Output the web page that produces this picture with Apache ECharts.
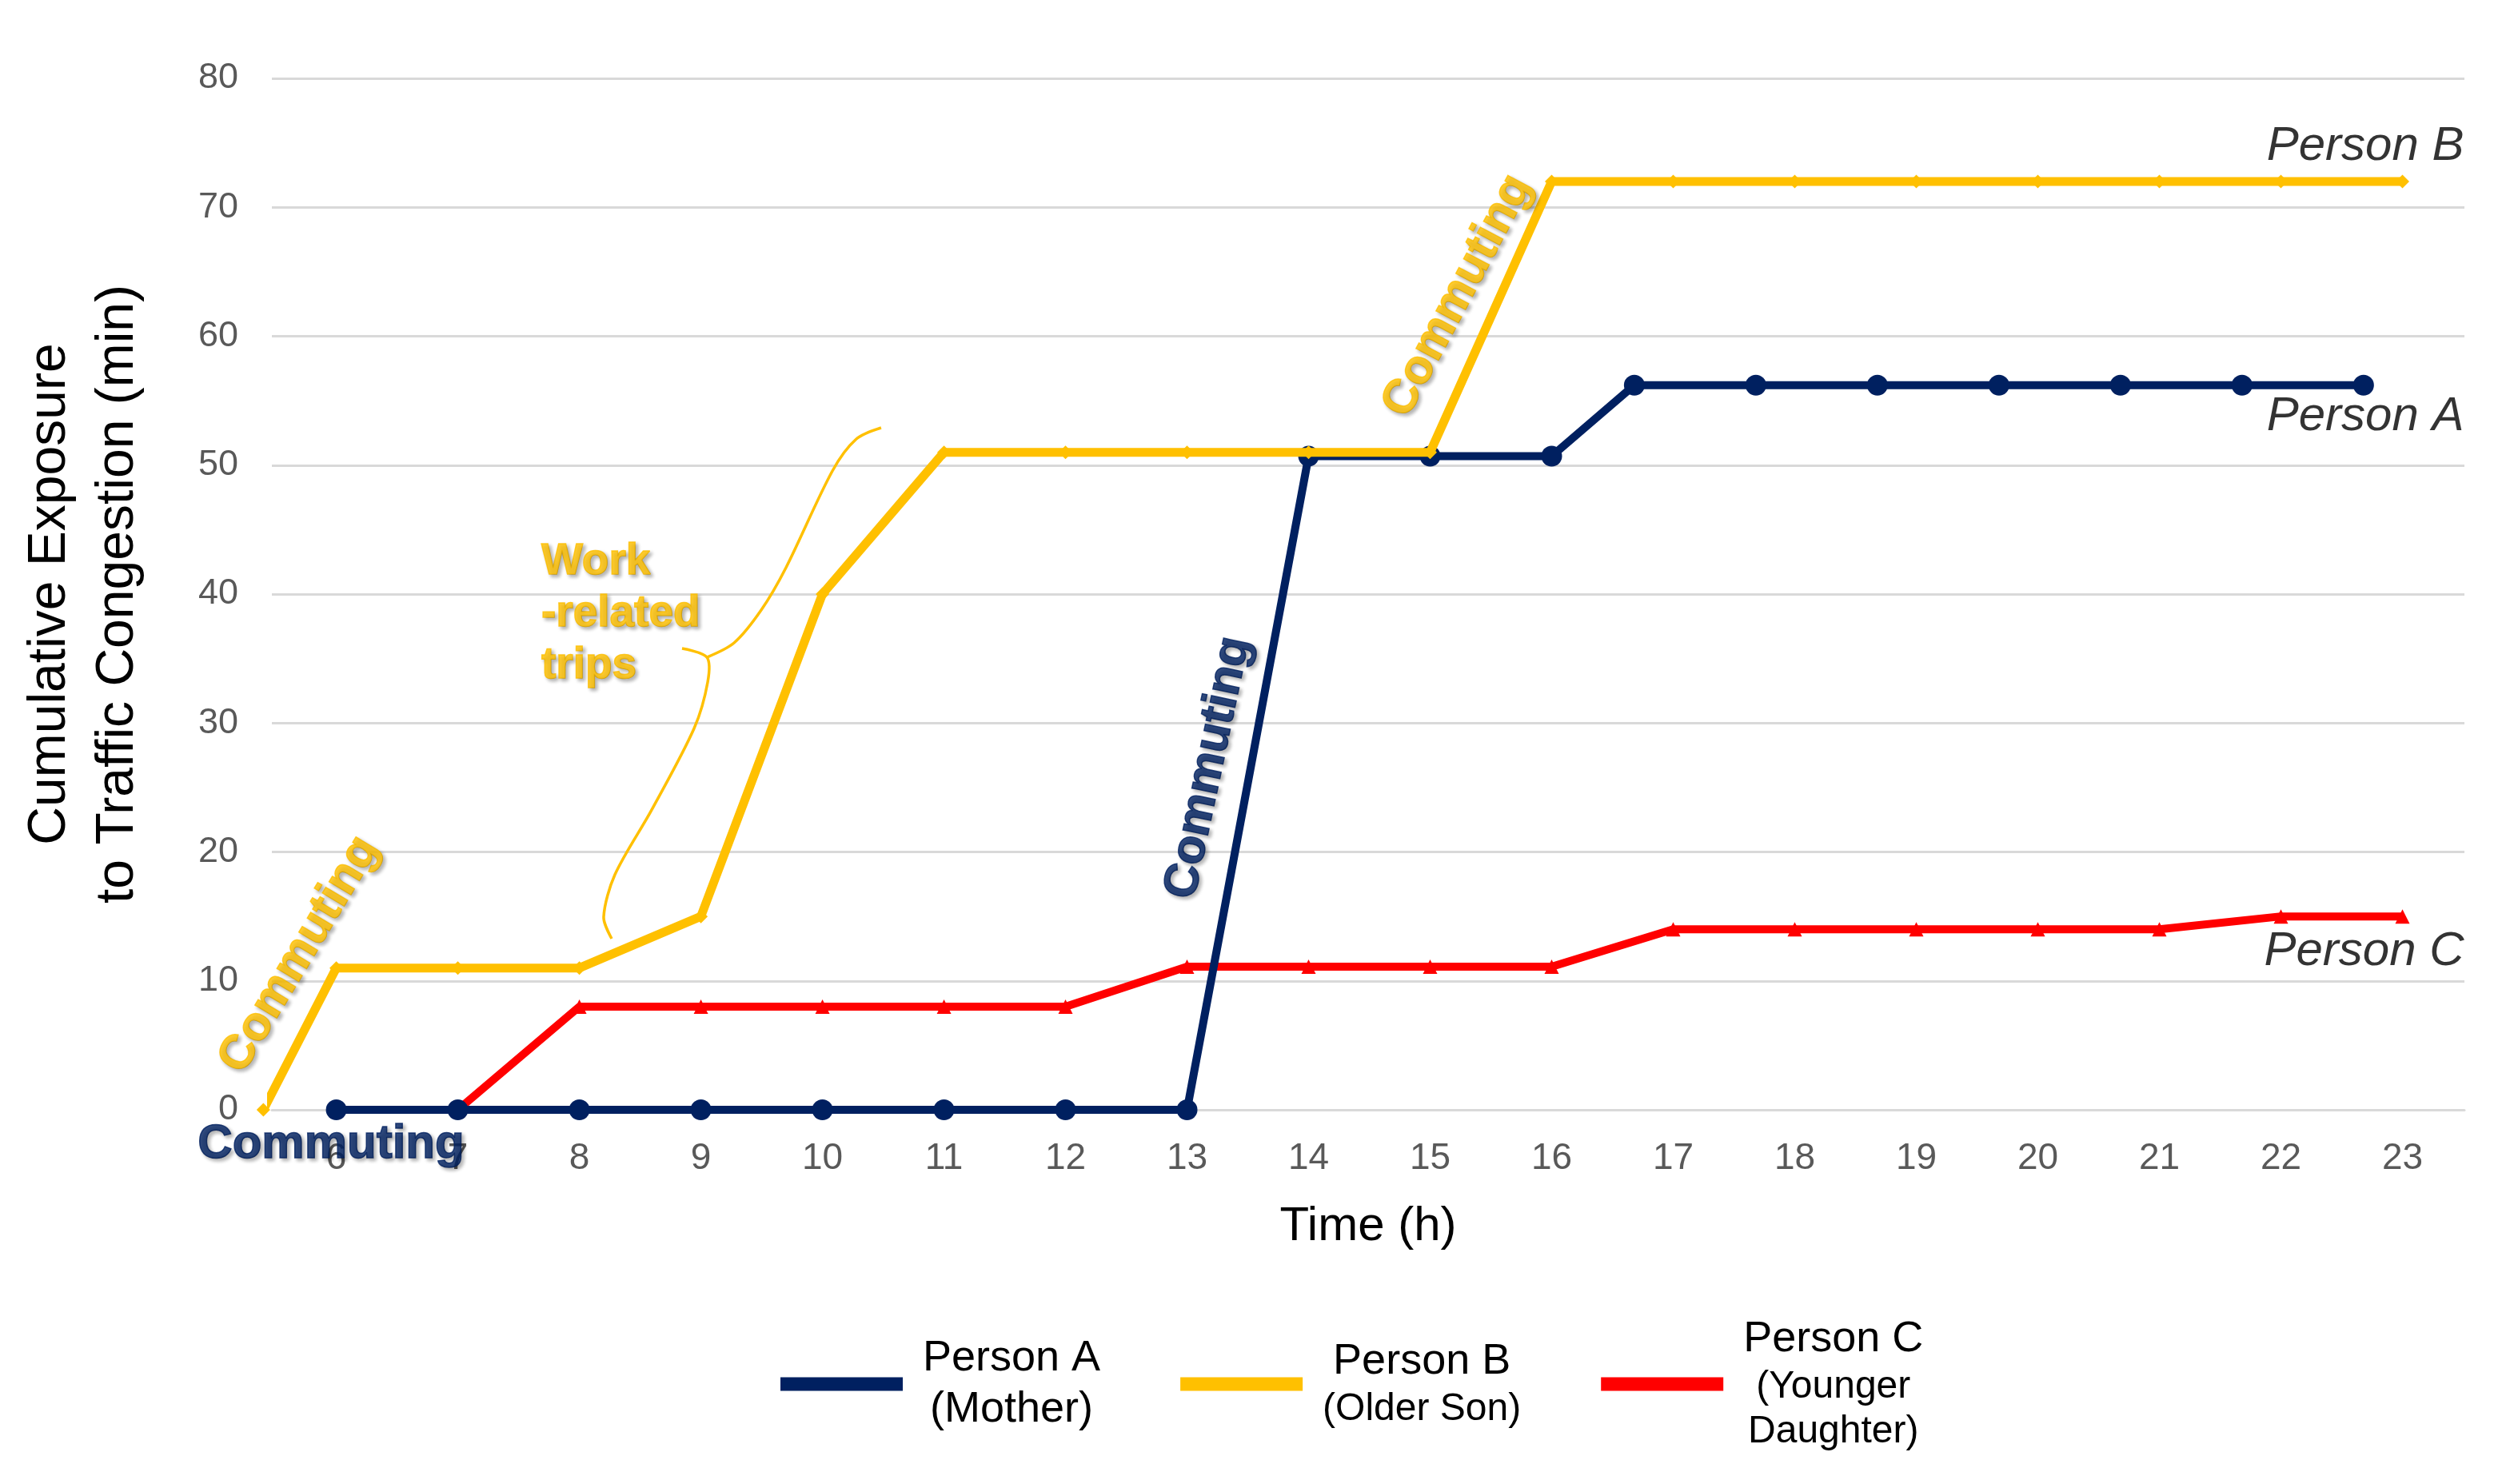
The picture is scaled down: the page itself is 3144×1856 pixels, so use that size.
<!DOCTYPE html>
<html><head><meta charset="utf-8">
<script src="https://cdn.jsdelivr.net/npm/echarts@6/dist/echarts.min.js"></script>
<style>html,body{margin:0;padding:0;background:#fff}#c{width:3144px;height:1856px}</style>
</head><body><div id="c"></div>
<script>
// ---- data ----
const xTicks = [6,7,8,9,10,11,12,13,14,15,16,17,18,19,20,21,22,23];
const yTicks = [0,10,20,30,40,50,60,70,80];
const personA = [[6,0],[7,0],[8,0],[9,0],[10,0],[11,0],[12,0],[13,0],[14,50.7],[15,50.7],[16,50.7],
  [16.68,56.2],[17.68,56.2],[18.68,56.2],[19.68,56.2],[20.68,56.2],[21.68,56.2],[22.68,56.2]];
const personB = [[5.40,0],[6,11],[7,11],[8,11],[9,15],[10,40],[11,51],[12,51],[13,51],[14,51],[15,51],
  [16,72],[17,72],[18,72],[19,72],[20,72],[21,72],[22,72],[23,72]];
const personC = [[6,0],[7,0],[8,8],[9,8],[10,8],[11,8],[12,8],[13,11.1],[14,11.1],[15,11.1],[16,11.1],
  [17,14],[18,14],[19,14],[20,14],[21,14],[22,15],[23,15]];
const seriesNames = ['Person A','Person B','Person C'];
const legendLines = {
  'Person A': ['{a|Person A}', '{a|(Mother)}'],
  'Person B': ['{a|Person B}', '{b|(Older Son)}'],
  'Person C': ['{a|Person C}', '{b|(Younger}', '{b|Daughter)}']
};
// annotation anchors (data coordinates)
const yellowNotes = [
  {text:'Commuting', x:5.70, y:12.0, rot:59},
  {text:'Commuting', x:15.23, y:63.1, rot:62}
];
const navyNotes = [
  {text:'Commuting', x:5.96, y:-2.7, rot:0},
  {text:'Commuting', x:13.18, y:26.5, rot:78}
];
const workNote = {text:'Work\n-related\ntrips', x:7.69, y:38.4};
const personNotes = [
  {text:'Person B', x:23.51, y:74.7},
  {text:'Person A', x:23.51, y:53.7},
  {text:'Person C', x:23.51, y:12.2}
];
const braceLower = [[8.266,13.27],[8.200,14.95],[8.292,18.23],[8.595,23.26],[8.944,29.58],[9.056,33.18],[9.049,35.10],[8.845,35.78]];
const braceUpper = [[9.049,35.10],[9.273,36.22],[9.496,38.76],[9.700,42.05],[10.082,49.55],[10.279,52.03],[10.483,52.90]];

// ---- chart ----
const NAVY = '#002060', YEL = '#FFC000', RED = '#FF0000';
const FF = 'Liberation Sans, Arial, sans-serif';
const chart = echarts.init(document.getElementById('c'));
const shadow = {textShadowColor:'rgba(0,0,0,0.35)', textShadowBlur:4, textShadowOffsetX:3, textShadowOffsetY:3};

function noteSeries(list, color, extra) {
  return {
    type:'scatter', silent:true, clip:false, z:10, symbolSize:1,
    itemStyle:{color:'transparent'},
    data: list.map(n => ({value:[n.x, n.y], label:{formatter:n.text, rotate:n.rot || 0}})),
    label: Object.assign({show:true, position:[0,0], align:'center', verticalAlign:'middle',
      fontFamily:FF, fontWeight:'bold', fontSize:60, color:color,
      textBorderColor:color, textBorderWidth:1.5}, shadow, extra || {})
  };
}

chart.setOption({
  animation:false,
  backgroundColor:'#fff',
  grid:{left:340, right:62, top:98, bottom:468},
  xAxis:{
    type:'value', min:5.47, max:23.51,
    name:'Time (h)', nameLocation:'middle', nameGap:116,
    nameTextStyle:{fontFamily:FF, fontSize:60, color:'#000'},
    axisLine:{show:true, lineStyle:{color:'#d9d9d9', width:3}},
    axisTick:{show:false},
    splitLine:{show:false},
    axisLabel:{customValues:xTicks, fontFamily:FF, fontSize:46, color:'#595959', margin:38}
  },
  yAxis:{
    type:'value', min:0, max:80, interval:10,
    name:'Cumulative Exposure\nto Traffic Congestion (min)', nameLocation:'middle', nameGap:150,
    nameTextStyle:{fontFamily:FF, fontSize:66, lineHeight:85, color:'#000', align:'center'},
    axisLine:{show:false}, axisTick:{show:false},
    splitLine:{lineStyle:{color:'#d9d9d9', width:3}},
    axisLabel:{fontFamily:FF, fontSize:45, color:'#595959', margin:42,
      formatter: v => (yTicks.indexOf(v) >= 0 ? String(v) : '')}
  },
  legend:{
    data:seriesNames, left:976, top:1648, padding:0, orient:'horizontal',
    icon:'rect', itemWidth:153, itemHeight:17, itemGap:100,
    textStyle:{fontFamily:FF, color:'#000', padding:[0,0,0,20],
      rich:{a:{fontFamily:FF, fontSize:54, lineHeight:64, align:'center', color:'#000'},
            b:{fontFamily:FF, fontSize:48, lineHeight:56, align:'center', color:'#000'}}},
    formatter: name => legendLines[name].join('\n')
  },
  series:[
    {name:'Person C', type:'line', data:personC, color:RED, clip:false, z:3,
      symbol:'triangle', symbolSize:18, lineStyle:{width:10, color:RED}, itemStyle:{color:RED}},
    {name:'Person A', type:'line', data:personA, color:NAVY, clip:false, z:4,
      symbol:'circle', symbolSize:26, lineStyle:{width:10, color:NAVY}, itemStyle:{color:NAVY}},
    {name:'Person B', type:'line', data:personB, color:YEL, clip:false, z:5,
      symbol:'diamond', symbolSize:17, lineStyle:{width:11, color:YEL}, itemStyle:{color:YEL}},
    {type:'custom', silent:true, clip:false, z:6, data:[0],
      renderItem:(params, api) => ({
        type:'group',
        children:[
          {type:'polyline', shape:{points:braceLower.map(p => api.coord(p)), smooth:0.3},
            style:{stroke:YEL, lineWidth:3.5, fill:null}},
          {type:'polyline', shape:{points:braceUpper.map(p => api.coord(p)), smooth:0.3},
            style:{stroke:YEL, lineWidth:3.5, fill:null}}
        ]
      })},
    noteSeries(yellowNotes, YEL),
    noteSeries(navyNotes, NAVY),
    noteSeries([workNote], YEL, {align:'left', fontSize:55, lineHeight:65}),
    {type:'scatter', silent:true, clip:false, z:10, symbolSize:1, itemStyle:{color:'transparent'},
      data: personNotes.map(n => ({value:[n.x, n.y], label:{formatter:n.text}})),
      label:{show:true, position:[0,0], align:'right', verticalAlign:'middle',
        fontFamily:FF, fontStyle:'italic', fontSize:60, color:'#000'}}
  ]
});
</script></body></html>
